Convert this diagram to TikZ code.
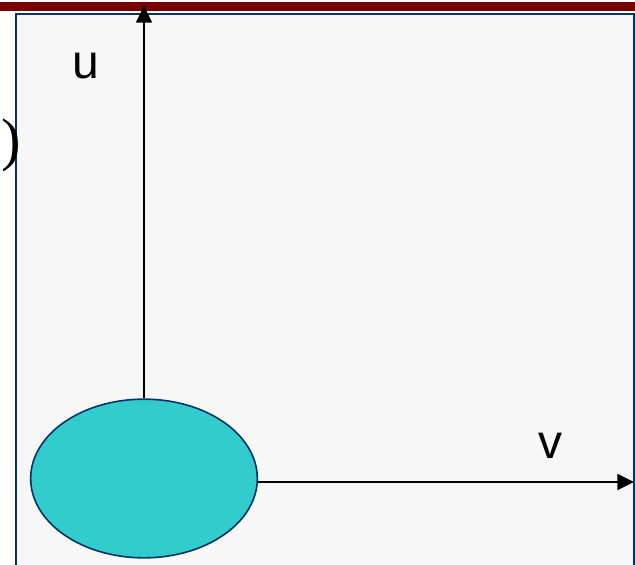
\documentclass[tikz,border=0pt]{standalone}
\usepackage{fontspec}
\setmainfont{Liberation Serif}
\setsansfont{Liberation Sans}
\usetikzlibrary{arrows.meta,shapes.geometric}
\definecolor{barred}{HTML}{7A0000}
\definecolor{panelblue}{HTML}{003366}
\definecolor{panelfill}{HTML}{F7F7F7}
\definecolor{blobfill}{HTML}{33CCCC}
\tikzset{
  axis/.style={draw=black, line width=1.3pt, -{Triangle[length=12.5pt,width=12pt]}},
  axlabel/.style={font=\sffamily\fontsize{36}{36}\selectfont, inner sep=0pt},
  blob/.style={ellipse, draw=panelblue, line width=1.2pt, fill=blobfill, minimum width=170pt, minimum height=119pt, inner sep=0pt}
}
\begin{document}
\begin{tikzpicture}[x=0.75pt,y=-0.75pt]
\useasboundingbox (0,0) rectangle (635,564);
\fill[white] (0,0) rectangle (635,564);
% panel
\filldraw[fill=panelfill, draw=panelblue, line width=1.5pt] (15.5,14) rectangle (634,580);
% top bar
\fill[barred] (0,1.7) rectangle (635,11);
% text at left edge
\node[font=\fontsize{44}{44}\selectfont, inner sep=0pt, anchor=west] (paren) at (1,145) {)};
% blob
\node[blob] (e) at (144,478.5) {};
\coordinate (uend) at (144,6);
\coordinate (vend) at (634,482);
\draw[axis] (e.north) -- (uend);
\draw[axis] (e.east |- vend) -- (vend);
% labels
\node[axlabel] (u) at (86,66) {u};
\node[axlabel] (v) at (550,446) {v};
\end{tikzpicture}
\end{document}
